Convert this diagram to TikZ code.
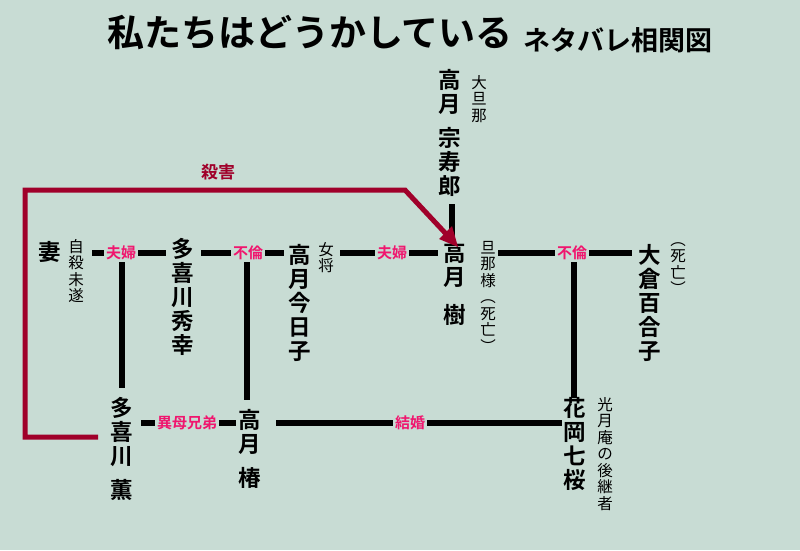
\documentclass[tikz,border=0pt]{standalone}
\usepackage{fontspec}
\newfontfamily\cjk{Noto Sans CJK JP}
\newfontfamily\cjkb{Noto Sans CJK JP Bold}
\definecolor{bg}{HTML}{C8DCD4}
\definecolor{kill}{HTML}{A0002A}
\definecolor{rel}{HTML}{F0166E}
\begin{document}
\begin{tikzpicture}[x=1pt,y=-1pt,
  nm/.style={font=\cjkb\fontsize{22.5}{24}\selectfont,align=center,inner sep=1pt,anchor=north},
  sm/.style={font=\cjk\fontsize{15.5}{16.5}\selectfont,align=center,inner sep=1pt,anchor=north},
  lk/.style={line width=6.5pt,black},
  rl/.style={font=\cjkb\fontsize{15}{16}\selectfont,text=rel,fill=bg,inner sep=2pt}]
\fill[bg] (0,0) rectangle (800,550);
\useasboundingbox (0,0) rectangle (800,550);
% title
\node (t1) at (310,33) {\cjkb\fontsize{37}{40}\selectfont 私たちはどうかしている};
\node[anchor=west] (t2) at (520,40) {\cjkb\fontsize{27}{30}\selectfont ネタバレ相関図};
% names
\node[nm] (tsm) at (450,68) {高\\月\\[10pt]宗\\寿\\郎};
\node[sm] (tsml) at (479,74) {大\\旦\\那};
\node[nm] (tsuma) at (50,240) {妻};
\node[sm] (tsumal) at (76,238) {自\\殺\\未\\遂};
\node[nm] (hide) at (183,237) {多\\喜\\川\\秀\\幸};
\node[nm] (kyo) at (300,243) {高\\月\\今\\日\\子};
\node[sm] (kyol) at (326,241) {女\\将};
\node[nm] (itsu) at (455,241) {高\\月\\[14pt]樹};
\node[sm] (itsul) at (488,240) {旦\\那\\様\\︵\\死\\亡\\︶};
\node[nm] (yuri) at (650,243) {大\\倉\\百\\合\\子};
\node[sm] (yuril) at (678,241) {︵\\死\\亡\\︶};
\node[nm] (kaoru) at (122,396) {多\\喜\\川\\[10pt]薫};
\node[nm] (tsub) at (250,408) {高\\月\\[10pt]椿};
\node[nm] (nao) at (575,396) {花\\岡\\七\\桜};
\node[sm] (naol) at (605,396) {光\\月\\庵\\の\\後\\継\\者};
% coordinates
\coordinate (a1) at (92,253); \coordinate (a2) at (166,253);
\coordinate (b1) at (201,253); \coordinate (b2) at (284,253);
\coordinate (c1) at (340,253); \coordinate (c2) at (438,253);
\coordinate (d1) at (498,253); \coordinate (d2) at (632,253);
\coordinate (g1) at (141,423); \coordinate (g2) at (236,423);
\coordinate (h1) at (276,423); \coordinate (h2) at (562,423);
% links
\draw[lk] (a1) -- (a2);
\draw[lk] (b1) -- (b2);
\draw[lk] (c1) -- (c2);
\draw[lk] (d1) -- (d2);
\draw[lk] (g1) -- (g2);
\draw[lk] (h1) -- (h2);
\draw[lk] (452,204) -- (452,241);
\node[rl] (f1) at (121,253) {夫婦};
\node[rl] (f2) at (248,253) {不倫};
\node[rl] (f3) at (392,253) {夫婦};
\node[rl] (f4) at (572,253) {不倫};
\node[rl] (f5) at (187,423) {異母兄弟};
\node[rl] (f6) at (410,423) {結婚};
\draw[lk] (f1.south -| 122,0) -- (122,388);
\draw[lk] (f2.south -| 247,0) -- (247,400);
\draw[lk] (f4.south -| 574,0) -- (574,398);
% murder
\coordinate (k0) at (98,437);
\draw[kill,line width=5pt,line join=miter] (k0) -- (25,437) -- (25,190) -- (405,190) -- (448,236);
\fill[kill] (458,247) -- (439,239) -- (452,226) -- cycle;
\node[font=\cjkb\fontsize{17}{18}\selectfont,text=kill] (kl) at (218,172) {殺害};
\end{tikzpicture}
\end{document}
